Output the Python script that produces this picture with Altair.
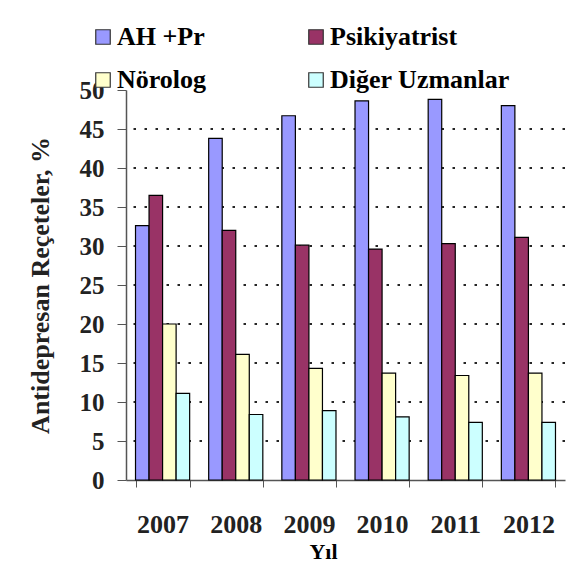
import altair as alt
import pandas as pd

years = ["2007", "2008", "2009", "2010", "2011", "2012"]
groups = ["AH +Pr", "Psikiyatrist", "Nörolog", "Diğer Uzmanlar"]
colors = ["#9999FF", "#993366", "#FFFFCC", "#CCFFFF"]

ah_pr = [32.6, 43.8, 46.7, 48.6, 48.8, 48.0]
psikiyatrist = [36.5, 32.0, 30.1, 29.6, 30.3, 31.1]
norolog = [20.0, 16.1, 14.3, 13.7, 13.4, 13.7]
diger = [11.1, 8.4, 8.9, 8.1, 7.4, 7.4]

y_ticks = [0, 5, 10, 15, 20, 25, 30, 35, 40, 45, 50]
grid_values = [5, 10, 15, 20, 25, 30, 35, 40, 45]

series = [ah_pr, psikiyatrist, norolog, diger]
rows = []
for g, vals in zip(groups, series):
    for y, v in zip(years, vals):
        rows.append({"Yıl": y, "Grup": g, "Değer": v})
df = pd.DataFrame(rows)

FONT = "Liberation Serif"

y_scale = alt.Scale(domain=[0, 50], nice=False)
y_axis = alt.Axis(
    title="Antidepresan Reçeteler, %",
    values=y_ticks,
    labelFontSize=25,
    labelPadding=13,
    labelOverlap=False,
    tickSize=9,
    grid=False,
    titleFontSize=26,
    titleX=-86,
    titleY=195,
    titleAlign="center",
    titleBaseline="middle",
)

# dotted horizontal gridlines behind the bars
grid = (
    alt.Chart(pd.DataFrame({"Değer": grid_values}))
    .mark_rule(color="black", strokeDash=[2.5, 8.5], strokeWidth=2, opacity=0.85)
    .encode(y=alt.Y("Değer:Q", scale=y_scale, axis=y_axis))
)

bars = (
    alt.Chart(df)
    .mark_bar(stroke="black", strokeWidth=1.2)
    .encode(
        x=alt.X(
            "Yıl:N",
            sort=years,
            scale=alt.Scale(paddingInner=0.26, paddingOuter=0.13),
            axis=alt.Axis(
                title="Yıl",
                labelAngle=0,
                labelFontSize=26,
                labelPadding=24,
                labelOverlap=False,
                tickBand="extent",
                tickSize=7,
                titleFontSize=22,
                titleColor="black",
                titleX=197,
                titleY=61,
                titleAlign="center",
                titleBaseline="top",
                grid=False,
            ),
        ),
        xOffset=alt.XOffset("Grup:N", sort=groups),
        y=alt.Y("Değer:Q", scale=y_scale, axis=y_axis),
        color=alt.Color(
            "Grup:N",
            sort=groups,
            scale=alt.Scale(domain=groups, range=colors),
            legend=alt.Legend(
                title=None,
                orient="none",
                legendX=-36,
                legendY=-66,
                columns=2,
                direction="horizontal",
                symbolType="square",
                symbolSize=210,
                symbolStrokeColor="#333333",
                symbolStrokeWidth=1.2,
                symbolOpacity=1,
                labelFontSize=26,
                labelOffset=1,
                labelLimit=300,
                columnPadding=96,
                rowPadding=17,
            ),
        ),
    )
)

chart = (
    alt.layer(grid, bars)
    .properties(
        width=439,
        height=390,
        autosize=alt.AutoSizeParams(type="none"),
        padding={"left": 126, "top": 90, "right": 22, "bottom": 89},
        background="white",
    )
    .configure(font=FONT)
    .configure_view(stroke=None)
    .configure_axis(
        labelFont=FONT,
        labelFontWeight="bold",
        labelColor="#222222",
        titleFont=FONT,
        titleFontWeight="bold",
        titleColor="#222222",
        tickColor="#555555",
        domainColor="#555555",
        domainWidth=1.5,
    )
    .configure_legend(
        labelFont=FONT,
        labelFontWeight="bold",
        labelColor="black",
    )
)

chart.save("out.html", embed_options={"renderer": "svg", "actions": False})
